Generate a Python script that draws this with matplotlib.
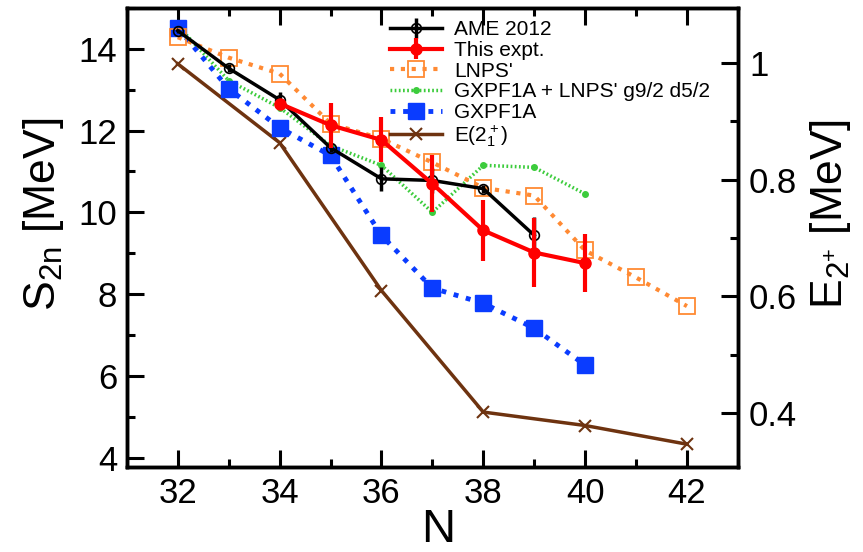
import matplotlib
matplotlib.use("Agg")
from matplotlib import pyplot as plt
from matplotlib.ticker import MultipleLocator

plt.rcParams['font.family'] = ['Liberation Sans', 'DejaVu Sans']
plt.rcParams['mathtext.fontset'] = 'custom'
plt.rcParams['mathtext.rm'] = 'Liberation Sans'
plt.rcParams['mathtext.it'] = 'Liberation Sans'

# AME 2012
ame_n = [32, 33, 34, 35, 36, 37, 38, 39]
ame_s2n = [14.44, 13.52, 12.75, 11.58, 10.82, 10.78, 10.58, 9.44]
ame_err = [0.05, 0.1, 0.2, 0.1, 0.3, 0.3, 0.1, 0.45]

# This experiment
exp_n = [34, 35, 36, 37, 38, 39, 40]
exp_s2n = [12.66, 12.13, 11.77, 10.7, 9.56, 9.02, 8.76]
exp_err = [0.1, 0.55, 0.55, 0.7, 0.75, 0.85, 0.7]

# LNPS'
lnps_n = [32, 33, 34, 35, 36, 37, 38, 39, 40, 41, 42]
lnps_s2n = [14.28, 13.78, 13.39, 12.17, 11.8, 11.22, 10.6, 10.41, 9.07, 8.41, 7.71]

# GXPF1A + LNPS' g9/2 d5/2
mix_n = [32, 33, 34, 35, 36, 37, 38, 39, 40]
mix_s2n = [14.56, 13.22, 12.56, 11.63, 11.15, 10.0, 11.15, 11.1, 10.45]

# GXPF1A
gx_n = [32, 33, 34, 35, 36, 37, 38, 39, 40]
gx_s2n = [14.51, 13.02, 12.07, 11.39, 9.44, 8.15, 7.78, 7.17, 6.27]

# E(2+) on right axis
e2_n = [32, 34, 36, 38, 40, 42]
e2_mev = [0.998, 0.863, 0.61, 0.402, 0.379, 0.347]

c_orange = '#ff8a33'
c_green = '#3ccc3c'
c_blue = '#0a3cff'
c_brown = '#6e3310'

fig, ax = plt.subplots(figsize=(8.63, 5.52), dpi=100)
fig.subplots_adjust(left=0.147, right=0.855, bottom=0.154, top=0.986)
ax2 = ax.twinx()

l_ame = ax.errorbar(ame_n, ame_s2n, yerr=ame_err, color='black', lw=2.5, marker='o', ms=7,
                    mfc='none', mec='black', mew=1.2, elinewidth=2.5, capsize=0, zorder=5)
l_exp = ax.errorbar(exp_n, exp_s2n, yerr=exp_err, color='red', lw=3, marker='o', ms=8,
                    elinewidth=3, capsize=0, zorder=6)
l_lnps, = ax.plot(lnps_n, lnps_s2n, color=c_orange, lw=3, ls=(0, (1, 1.6)), marker='s', ms=11,
                  mfc='none', mec=c_orange, mew=1.3, zorder=4)
l_mix, = ax.plot(mix_n, mix_s2n, color=c_green, lw=2.5, ls=(0, (0.5, 0.7)), marker='o', ms=4,
                 zorder=3)
l_gx, = ax.plot(gx_n, gx_s2n, color=c_blue, lw=3.5, ls=(0, (1, 1.6)), marker='s', ms=11, zorder=3)
l_e2, = ax2.plot(e2_n, e2_mev, color=c_brown, lw=2.5, marker='x', ms=9, mew=1.5)

ax.set_xlim(31, 43)
ax.set_ylim(3.78, 15)
ax2.set_ylim(0.308, 1.094)

ax.xaxis.set_major_locator(MultipleLocator(2))
ax.xaxis.set_minor_locator(MultipleLocator(1))
ax.yaxis.set_major_locator(MultipleLocator(2))
ax.yaxis.set_minor_locator(MultipleLocator(1))
ax2.yaxis.set_minor_locator(MultipleLocator(0.1))
ax2.set_yticks([0.4, 0.6, 0.8, 1.0])
ax2.set_yticklabels(['0.4', '0.6', '0.8', '1'])

ax.tick_params(which='both', direction='in', top=True, right=False, width=2.2, labelsize=25, pad=7)
ax.tick_params(which='major', length=12)
ax.tick_params(which='minor', length=6)
ax2.tick_params(which='both', direction='in', width=2.2, labelsize=25, pad=8)
ax2.tick_params(which='major', length=12)
ax2.tick_params(which='minor', length=6)
for a in (ax, ax2):
    for sp in a.spines.values():
        sp.set_linewidth(2.5)

ax.set_xlabel('N', fontsize=34)
ax.xaxis.set_label_coords(0.51, -0.09)
ax.set_ylabel(r'S$_{2n}$ [MeV]', fontsize=32)
ax.yaxis.set_label_coords(-0.1, 0.55)
ax2.set_ylabel(r'E$_{2^{+}}$ [MeV]', fontsize=32, rotation=90)
ax2.yaxis.set_label_coords(1.115, 0.55)

ax.legend([l_ame, l_exp, l_lnps, l_mix, l_gx, l_e2],
          ['AME 2012', 'This expt.', "LNPS'", "GXPF1A + LNPS' g9/2 d5/2", 'GXPF1A', r'E(2$^+_1$)'],
          loc='upper left', bbox_to_anchor=(0.41, 1.0), frameon=False, fontsize=15,
          handlelength=2.5, labelspacing=0.08, handletextpad=0.6, borderaxespad=0.2)
ax.set_zorder(ax2.get_zorder() + 1)
ax.patch.set_visible(False)

plt.savefig('out.png', dpi=100)
